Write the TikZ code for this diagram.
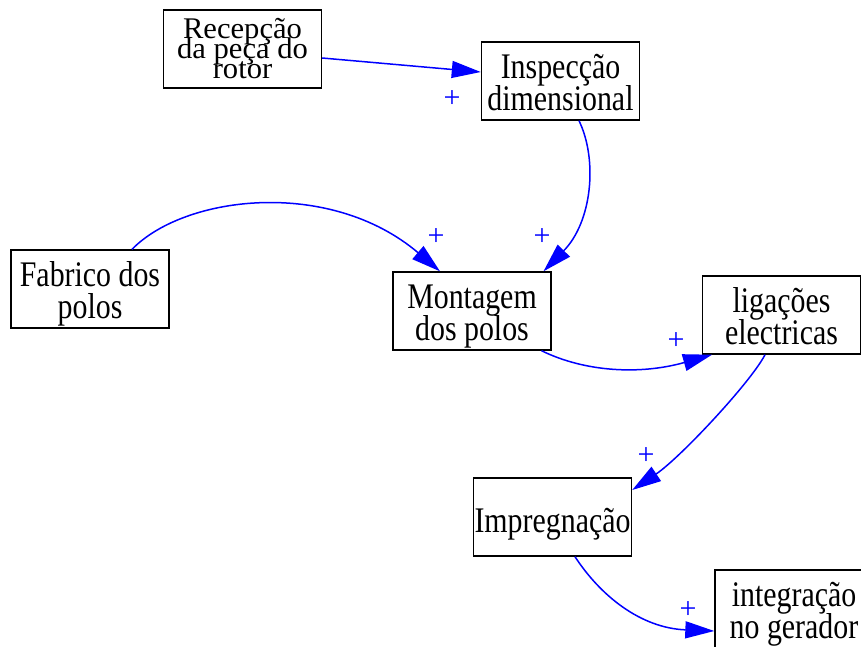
\documentclass[tikz,border=0pt]{standalone}
\usepackage{fontspec}
\setmainfont{Liberation Serif}
\newfontfamily\boxfont[FakeStretch=0.83]{Liberation Serif}
\newfontfamily\tightfont[FakeStretch=1.02]{Liberation Serif}
\usetikzlibrary{arrows.meta}
\definecolor{linkblue}{RGB}{0,0,255}
% centred lines whose baseline is the first line; lines may overlap
\newcommand\stacklines[1]{\vtop{\lineskiplimit=-100pt\lineskip=0pt\halign{\hfil##\hfil\cr#1\crcr}}}
\begin{document}
\begin{tikzpicture}[x=1pt, y=-1pt,
  box/.style={draw, line width=1.4pt, minimum width=158pt, minimum height=78pt,
    inner sep=0pt, text height=0pt, text depth=6pt, font=\boxfont\fontsize{36}{32}\selectfont},
  link/.style={draw=linkblue, line width=1.5pt, -{Triangle[length=29pt,width=17pt]}},
  sign/.style={text=linkblue, inner sep=0pt, font=\fontsize{30}{30}\selectfont}]
\useasboundingbox (0,0) rectangle (861,646);

% process steps
\node[box, text height=0pt, text depth=22pt, font=\tightfont\fontsize{30}{20}\selectfont]
  (R) at (242.5,49) {\stacklines{Recepção\cr da peça do\cr rotor}};
\node[box] (I) at (560.5,81) {\stacklines{Inspecção\cr dimensional}};
\node[box] (F) at (90,289) {\stacklines{Fabrico dos\cr polos}};
\node[box] (M) at (472,311) {\stacklines{Montagem\cr dos polos}};
\node[box] (L) at (781.5,315) {\stacklines{ligações\cr electricas}};
\node[box, text height=30pt, text depth=0pt] (P) at (552.5,517) {\stacklines{Impregnação}};
\node[box] (G) at (794,609) {\stacklines{integração\cr no gerador}};

% flow links
\draw[link] ([yshift=-9pt]R.east) -- ([yshift=9pt]I.west);
\draw[link] ([xshift=18.5pt]I.south) .. controls (598,160) and (592,222) .. ([xshift=71.5pt]M.north);
\draw[link] ([xshift=42pt]F.north) .. controls (185,195) and (330,178) .. ([xshift=-32pt]M.north);
\draw[link] ([xshift=69.5pt]M.south) .. controls (585,372) and (640,375) .. ([xshift=-69.5pt]L.south);
\draw[link] ([xshift=-16.5pt]L.south) .. controls (751,382) and (680,458) .. ([yshift=27pt]P.east);
\draw[link] ([xshift=22.5pt]P.south) .. controls (600,595) and (640,628) .. ([yshift=-22pt]G.west);

% polarity signs
\node[sign] (s1) at (452,99) {+};
\node[sign] (s2) at (542,237) {+};
\node[sign] (s3) at (436,237) {+};
\node[sign] (s4) at (676,341) {+};
\node[sign] (s5) at (646,456) {+};
\node[sign] (s6) at (688,610) {+};
\end{tikzpicture}
\end{document}
